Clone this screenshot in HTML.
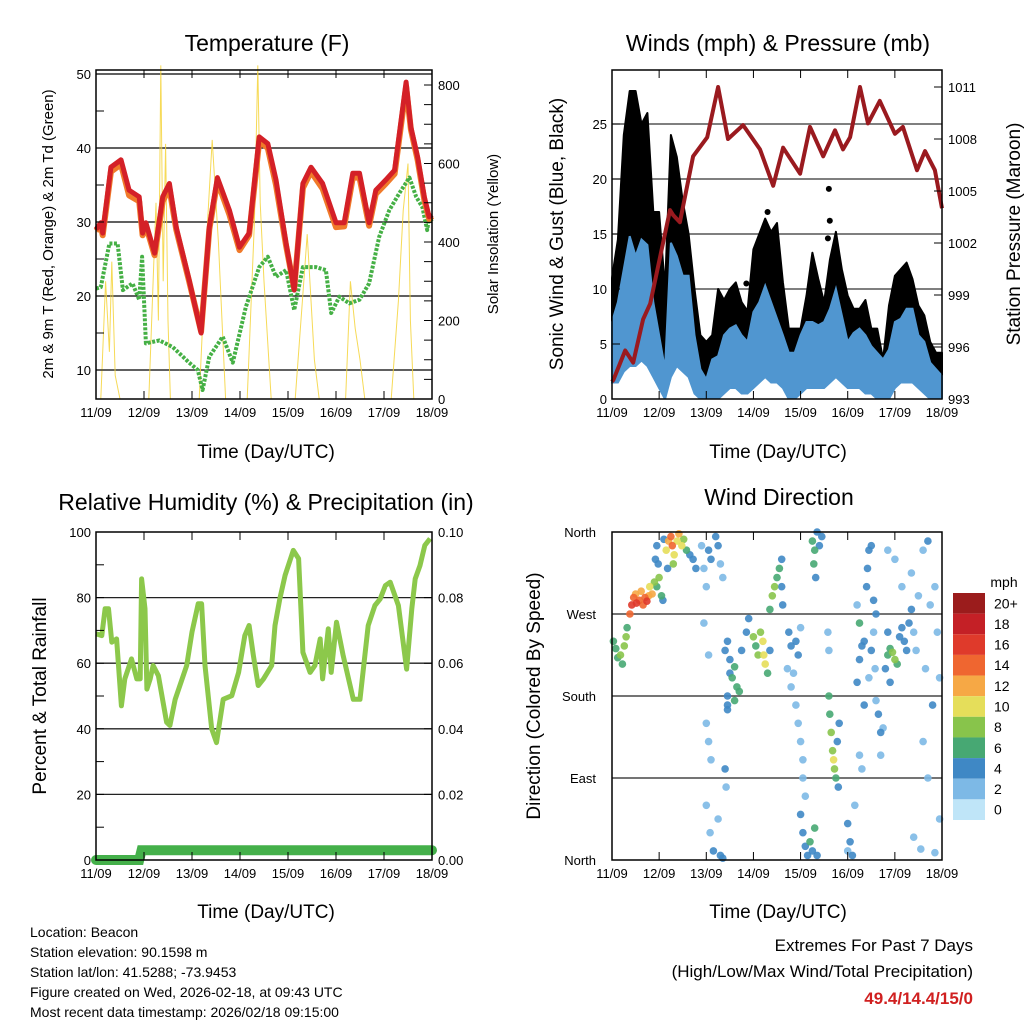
<!DOCTYPE html>
<html><head><meta charset="utf-8">
<style>
html,body{margin:0;padding:0;background:#fff;}
svg text{font-family:"Liberation Sans",Arial,sans-serif;fill:#000;}
</style></head>
<body>
<svg id="chart" xmlns="http://www.w3.org/2000/svg" width="1024" height="1024" viewBox="0 0 1024 1024">
<g id="layer"></g>
<text x="267" y="51" font-size="23" text-anchor="middle">Temperature (F)</text>
<text x="778" y="51" font-size="23" text-anchor="middle">Winds (mph) &amp; Pressure (mb)</text>
<text x="266" y="510" font-size="23" text-anchor="middle">Relative Humidity (%) &amp; Precipitation (in)</text>
<text x="779" y="505" font-size="23" text-anchor="middle">Wind Direction</text>
<text transform="translate(53,234) rotate(-90)" font-size="15" text-anchor="middle">2m &amp; 9m T (Red, Orange) &amp; 2m Td (Green)</text>
<text transform="translate(498,234) rotate(-90)" font-size="15" text-anchor="middle">Solar Insolation (Yellow)</text>
<text transform="translate(563,234) rotate(-90)" font-size="19" text-anchor="middle">Sonic Wind &amp; Gust (Blue, Black)</text>
<text transform="translate(1020,234) rotate(-90)" font-size="19" text-anchor="middle">Station Pressure (Maroon)</text>
<text transform="translate(46,696) rotate(-90)" font-size="19" text-anchor="middle">Percent &amp; Total Rainfall</text>
<text transform="translate(540,696) rotate(-90)" font-size="19" text-anchor="middle">Direction (Colored By Speed)</text>
<text x="266" y="458" font-size="19" text-anchor="middle">Time (Day/UTC)</text>
<text x="778" y="458" font-size="19" text-anchor="middle">Time (Day/UTC)</text>
<text x="266" y="918" font-size="19" text-anchor="middle">Time (Day/UTC)</text>
<text x="778" y="918" font-size="19" text-anchor="middle">Time (Day/UTC)</text>
<g font-size="14">
<text x="30" y="937">Location: Beacon</text>
<text x="30" y="957">Station elevation: 90.1598 m</text>
<text x="30" y="977">Station lat/lon: 41.5288; -73.9453</text>
<text x="30" y="997">Figure created on Wed, 2026-02-18, at 09:43 UTC</text>
<text x="30" y="1017">Most recent data timestamp: 2026/02/18 09:15:00</text>
</g>
<text x="973" y="951" font-size="17" text-anchor="end">Extremes For Past 7 Days</text>
<text x="973" y="977" font-size="17" text-anchor="end">(High/Low/Max Wind/Total Precipitation)</text>
<text x="973" y="1004" font-size="17" font-weight="bold" text-anchor="end" style="fill:#d02020">49.4/14.4/15/0</text>
<text x="1004" y="587" font-size="14" text-anchor="middle">mph</text>
</svg>
<script>
// ---- data ----
const dayLabels = ["11/09","12/09","13/09","14/09","15/09","16/09","17/09","18/09"];
const tempT = [0,0.1,0.14,0.31,0.52,0.69,0.9,0.97,1.04,1.22,1.39,1.53,1.67,1.94,2.19,2.36,2.53,2.78,2.99,3.19,3.4,3.58,3.75,3.96,4.13,4.31,4.48,4.72,5.0,5.17,5.35,5.49,5.69,5.83,6.04,6.22,6.46,6.56,6.7,6.84,6.94,7.0];
const tempV = [29,29.9,28.5,37.4,38.4,34.3,33.4,28.5,29.9,25.8,33.4,35.2,29.3,22.2,15,29.3,36,31.6,26.6,28.5,41.5,40.6,35.7,27.1,20.8,35.2,37.4,35.2,29.9,29.9,36.6,36.6,29.9,34.3,35.7,37,48.9,42.8,38.8,33.4,30.7,31];
const temp9V = [28.8,29.5,28.2,36.8,37.8,33.6,32.8,28.2,29.5,25.5,32.8,34.6,29,22,15.2,29,35.5,31,26.2,28.2,40.9,40,35,26.8,21,34.6,36.8,34.5,29.3,29.4,36,36,29.5,33.8,35.2,36.5,48.3,42.5,38.4,33,30.4,30.8];
const tdT = [0,0.1,0.28,0.45,0.56,0.76,0.9,0.96,1.04,1.32,1.6,1.94,2.12,2.22,2.36,2.64,2.85,3.12,3.4,3.58,3.75,3.96,4.13,4.31,4.58,4.79,4.9,5.07,5.28,5.49,5.69,5.9,6.11,6.32,6.53,6.67,6.8,6.9,6.94,7.0];
const tdV = [21,21.2,27.1,27.1,20.8,21.7,19.5,25.3,13.6,14,13.1,11,10,7.3,11.8,14.5,11,18.5,23.9,25.3,22.6,23.5,18.1,23.9,23.9,23.5,17.7,19.9,19,19.5,21.7,28,31.6,33.9,36,33.4,32,28.9,30.7,30];
const solarT = [0,0.1,0.2,0.28,0.33,0.4,0.5,1.1,1.25,1.3,1.35,1.4,1.45,1.5,1.55,2.15,2.3,2.42,2.55,2.7,3.15,3.3,3.37,3.42,3.5,3.65,4.15,4.3,4.4,4.55,4.65,5.2,5.3,5.4,5.5,5.6,6.15,6.3,6.4,6.5,6.55,6.62,7.0];
const solarV = [0,0,300,120,350,60,0,0,500,200,850,300,650,200,0,0,400,660,400,0,0,450,850,500,300,0,0,250,420,100,0,0,300,180,100,0,0,250,480,600,200,0,0];
const presT = [0,0.03,0.28,0.45,0.66,0.81,1.02,1.23,1.3,1.44,1.72,2.02,2.25,2.46,2.78,3.14,3.42,3.63,3.99,4.2,4.48,4.73,4.9,5.05,5.26,5.43,5.68,6.0,6.17,6.47,6.64,6.85,7.0];
const presV = [994,994.1,995.8,995.1,997.6,998.5,1001.2,1003.9,1003.6,1003.2,1007,1008.1,1011,1008,1008.8,1007.4,1005.3,1007.5,1006,1008.7,1007,1008.5,1007.4,1008.1,1011,1008.9,1010.2,1008.3,1008.7,1006.2,1007.3,1006.2,1004];
const windHi = [7,8.8,11.8,14.8,13,14.5,14,8.8,5.8,2.7,14.2,13,11.2,11.2,5.8,2.7,1.8,3.6,3.9,5.8,6.4,6.7,5.8,5.2,7.9,8.8,10.3,8.8,7.3,5.8,4.2,4.2,5.8,7,7,6.7,7,8.2,10,7.6,5.2,6,6.4,5.8,4.8,4.2,3.6,4.5,7,7.3,8.2,8.2,5.8,5.2,3.3,2.7,2.1];
const windLo = [1.5,1.5,2.5,3,3,3.5,3,2,1,0,2,3,2.5,2,0.5,0,0,0,0,0.5,1,1,0.5,0.5,1,1.5,2,1.5,1.5,1,0,0,0.5,1,1,1,1,1.5,2,1.5,1,1,1,0.5,0.5,0,0,0,1,1.5,1.5,1.5,1,0.5,0,0,0];
const gustHi = [11,14.5,24,28,28,25,26,17,17,10,24,22,18,15,10,5.8,5.2,5.8,10,9,10,10.6,8.8,8,13.6,15,16.4,15.2,16,10.6,6.4,6.4,6.4,9.4,13.3,10.9,8.8,12.7,15.2,11.8,9.4,8.2,8.2,9,6.4,6.4,3.6,8.5,11.2,11.8,12.4,10.9,8.5,7.6,5.2,4.2,4.2];
const gustOutT = [4.6,4.62,4.58,1.25,2.85,3.3];
const gustOutV = [19.1,16.2,14.6,17.5,10.5,17];
const rhT = [0,0.12,0.19,0.26,0.33,0.43,0.53,0.6,0.74,0.85,0.92,0.95,1.02,1.06,1.13,1.19,1.3,1.47,1.54,1.65,1.89,2.0,2.13,2.2,2.27,2.41,2.51,2.65,2.83,2.97,3.1,3.19,3.28,3.38,3.49,3.66,3.73,3.83,3.94,4.11,4.22,4.28,4.31,4.46,4.56,4.67,4.72,4.84,4.9,5.01,5.15,5.36,5.5,5.67,5.81,5.92,6.03,6.13,6.3,6.47,6.58,6.65,6.75,6.85,6.96];
const rhV = [69,68.4,76.6,76.6,66.4,67.4,47,55.2,61.3,55.2,55.2,85.7,76.6,52.1,55.2,59.3,56.2,42,41,49,59.3,69.5,78.1,78.1,59.3,40,35.8,49,50.1,57.2,68.4,71.5,62.3,53.2,55.2,59.3,71.5,79.6,86.8,94.4,91.9,73.5,63.3,57.2,59.3,67.4,55.2,70.5,57.2,72.5,62.3,49,49,71.5,77.6,79.6,83.7,84.7,77.6,58.2,76.6,85.7,89.8,95.9,98];
const precipT = [0,0.9,0.95,7.0];
const precipV = [0,0,0.003,0.003];
const dirDay = [0.03,0.08,0.12,0.18,0.22,0.26,0.3,0.32,0.38,0.42,0.46,0.5,0.52,0.58,0.62,0.66,0.7,0.74,0.78,0.8,0.85,0.9,0.95,1.0,1.05,1.08,0.92,0.95,0.98,1.15,1.2,1.25,1.28,1.32,1.38,1.42,1.48,1.52,1.58,1.65,1.72,1.78,1.18,1.1,1.3,1.9,1.95,2.0,2.05,2.1,2.2,2.25,2.3,2.35,1.95,2.05,2.0,2.05,2.1,2.0,2.08,2.15,2.3,2.35,2.25,2.4,2.42,2.45,2.45,2.4,2.45,2.5,2.55,2.6,2.65,2.7,2.75,2.85,2.9,2.45,2.5,2.6,3.0,3.05,3.1,3.15,3.2,3.25,3.3,3.35,3.22,3.35,3.4,3.45,3.5,3.55,3.6,3.62,3.6,3.75,3.8,3.9,3.95,3.72,3.85,3.8,4.0,3.9,3.95,4.0,4.05,4.05,4.1,4.0,4.05,4.1,4.15,4.2,4.25,4.3,4.35,4.25,4.3,4.28,4.32,4.35,4.4,4.45,4.6,4.62,4.65,4.68,4.7,4.72,4.75,4.8,4.78,4.82,4.6,4.58,5.0,5.05,5.1,5.0,5.15,5.25,5.3,5.35,5.2,5.25,5.3,5.35,5.4,5.42,5.45,5.5,5.55,5.6,5.55,5.5,5.58,5.6,5.65,5.7,5.75,5.7,5.45,5.2,5.25,5.85,5.9,5.95,6.0,6.05,6.1,6.15,6.2,6.25,5.85,5.8,5.9,6.3,6.35,6.4,6.45,5.85,6.0,6.15,6.35,6.5,6.6,6.7,6.75,6.85,6.9,6.95,6.8,6.6,6.7,6.4,6.55,6.85,6.95,6.65,6.9];
const dirDeg = [240,232,222,225,215,235,245,255,270,280,288,292,282,285,295,280,288,284,290,300,292,305,300,310,290,285,330,345,325,340,350,355,345,335,350,358,345,352,340,335,330,320,320,352,325,345,320,300,340,330,355,345,325,310,260,225,150,130,110,60,30,10,5,2,45,100,80,165,170,230,240,220,200,212,190,185,230,250,265,180,205,175,245,235,225,250,240,215,205,230,225,275,290,300,310,320,300,280,330,250,235,240,225,210,205,190,255,170,150,130,110,90,70,50,30,15,5,20,10,35,5,350,340,325,310,360,345,355,180,160,140,120,110,100,90,80,130,150,230,250,40,20,5,10,60,115,100,170,195,220,235,240,300,320,340,345,285,270,250,230,210,175,160,140,145,115,200,280,260,225,232,228,220,215,245,255,240,230,250,210,195,260,275,250,230,340,330,300,315,290,340,350,280,300,250,200,170,130,90,25,12,8,45,210,130];
const dirSpd = [5,6,5,7,6,7,7,6,14,15,13,11,15,14,12,14,13,15,12,10,11,7,6,7,5,4,3,4,3,10,12,13,14,10,9,11,9,8,6,4,4,4,4,3,8,2,2,1,3,3,4,4,2,2,1,1,1,1,1,1,2,3,3,4,2,3,2,3,3,4,4,4,6,6,6,6,4,4,3,4,4,6,7,6,7,8,10,9,6,4,10,6,7,8,6,6,4,3,3,3,4,4,4,2,2,2,2,2,2,2,2,2,2,3,3,4,4,6,4,6,3,6,6,5,4,4,3,3,6,6,7,8,10,8,6,4,4,4,2,2,3,4,4,2,2,1,1,3,4,4,4,3,4,4,3,3,4,3,2,3,2,2,3,3,1,2,2,2,6,6,6,8,8,5,4,4,3,4,4,3,4,4,3,2,2,1,2,1,2,1,2,3,1,2,2,1,3,1,2,2,1,1,2,1];
const cbLabels = ["20+","18","16","14","12","10","8","6","4","2","0"];
const cbColors = ["#9b1c1c","#c42026","#df3a2b","#ef6630","#f6a845","#e5de5a","#88c44b","#47a873","#3f88c5","#7db9e6","#bfe5f8"];

// ---- helpers ----
const NS = "http://www.w3.org/2000/svg";
const layer = document.getElementById("layer");
function mk(tag, attrs, parent){ const e=document.createElementNS(NS,tag); for(const k in attrs) e.setAttribute(k,attrs[k]); (parent||layer).appendChild(e); return e; }
function scale(d0,d1,r0,r1){ return v => r0 + (v-d0)*(r1-r0)/(d1-d0); }
function path(xs,ys,sx,sy){ return xs.map((t,i)=>(i?"L":"M")+sx(t).toFixed(1)+","+sy(ys[i]).toFixed(1)).join(""); }

function frame(x0,y0,x1,y1,name){
  const r = mk("rect",{x:x0,y:y0,width:x1-x0,height:y1-y0,fill:"none",stroke:"#000","stroke-width":1.5});
  
  
}
function xAxis(x0,x1,y0,y1,name){
  const sx = scale(0,7,x0,x1);
  dayLabels.forEach((lab,i)=>{
    const x=sx(i);
    const t1=mk("line",{x1:x,x2:x,y1:y1,y2:y1-8,stroke:"#000","stroke-width":1});
    
    
    const t2=mk("line",{x1:x,x2:x,y1:y0,y2:y0+8,stroke:"#000","stroke-width":1});
    
    
    const tx=mk("text",{x:x,y:y1+18,"font-size":13,"text-anchor":"middle"}); tx.textContent=lab;
    
    
  });
  return sx;
}
function grid(x0,x1,y,name,col){
  const g=mk("line",{x1:x0,x2:x1,y1:y,y2:y,stroke:col||"#000","stroke-width":1.3});
  
  
}
function yTicks(vals,sy,x,side,name,fmt,labels){
  vals.forEach(v=>{
    const y=sy(v);
    const t=mk("line",{x1:x,x2:x+(side<0?8:-8),y1:y,y2:y,stroke:"#000","stroke-width":1});
    
    
    if(labels!==false){
      const tx=mk("text",{x:side<0?x-5:x+6,y:y+5,"font-size":13,"text-anchor":side<0?"end":"start"}); tx.textContent=fmt(v);
      
      
    }
  });
}

// ===== Panel 1: Temperature =====
(function(){
  const X0=96,X1=432,Y0=70,Y1=399;
  const sx=scale(0,7,X0,X1), sy=scale(10,50,370,74), ss=scale(0,800,399,85);
  [10,20,30,40,50].forEach(v=>grid(X0,X1,sy(v),"temperature"));
  const sol=mk("path",{d:path(solarT,solarV,sx,ss),fill:"none",stroke:"#f5d43a","stroke-width":1,opacity:0.85});
  
  
  const td=mk("path",{d:path(tdT,tdV,sx,sy),fill:"none",stroke:"#45b045","stroke-width":4,"stroke-dasharray":"3 1.5","stroke-linejoin":"round"});
  
  
  const t9=mk("path",{d:path(tempT,temp9V,sx,sy),fill:"none",stroke:"#f07a2a","stroke-width":6,"stroke-linejoin":"round"});
  
  
  const t2=mk("path",{d:path(tempT,tempV,sx,sy),fill:"none",stroke:"#d42027","stroke-width":5,"stroke-linejoin":"round"});
  
  
  frame(X0,Y0,X1,Y1,"temperature");
  xAxis(X0,X1,Y0,Y1,"temperature");
  yTicks([10,20,30,40,50],sy,X0,-1,"temperature-y",v=>v);
  yTicks([15,25,35,45],sy,X0,-1,"temperature-y-minor",v=>v,false);
  yTicks([0,200,400,600,800],ss,X1,1,"insolation-y",v=>v);
  yTicks([50,100,150,250,300,350,450,500,550,650,700,750],ss,X1,1,"insolation-y-minor",v=>v,false);
})();

// ===== Panel 2: Winds & Pressure =====
(function(){
  const X0=612,X1=942,Y0=70,Y1=399;
  const sx=scale(0,7,X0,X1), sy=scale(0,25,399,124), sp=scale(993,1011,399,87);
  [5,10,15,20,25].forEach(v=>grid(X0,X1,sy(v),"wind","#333"));
  const tHi = windHi.map((v,i)=>i/8);
  // gust band: between mean-wind top and gust top
  let d = path(tHi,gustHi,sx,sy);
  for(let i=tHi.length-1;i>=0;i--) d+="L"+sx(tHi[i]).toFixed(1)+","+sy(windHi[i]).toFixed(1);
  const gb=mk("path",{d:d+"Z",fill:"#000",stroke:"#000","stroke-width":2,"stroke-linejoin":"round"});
  
  
  gustOutT.forEach((t,i)=>{
    const c=mk("circle",{cx:sx(t),cy:sy(gustOutV[i]),r:3,fill:"#000"});
    
    
  });
  let w = path(tHi,windHi,sx,sy);
  for(let i=tHi.length-1;i>=0;i--) w+="L"+sx(tHi[i]).toFixed(1)+","+sy(windLo[i]).toFixed(1);
  const wb=mk("path",{d:w+"Z",fill:"#5096d0",stroke:"#5096d0","stroke-width":2});
  
  
  const pr=mk("path",{d:path(presT,presV,sx,sp),fill:"none",stroke:"#9a1a1f","stroke-width":4,"stroke-linejoin":"round"});
  
  
  const clip=mk("rect",{x:X0-2,y:Y1,width:X1-X0+4,height:10,fill:"#fff"});
  
  
  frame(X0,Y0,X1,Y1,"wind");
  xAxis(X0,X1,Y0,Y1,"wind");
  yTicks([0,5,10,15,20,25],sy,X0,-1,"wind-y",v=>v);
  yTicks([993,996,999,1002,1005,1008,1011],sp,X1,1,"pressure-y",v=>v);
})();

// ===== Panel 3: RH & Precip =====
(function(){
  const X0=96,X1=432,Y0=532,Y1=860;
  const sx=scale(0,7,X0,X1), sy=scale(0,100,860,532), sr=scale(0,0.1,860,532);
  [20,40,60,80].forEach(v=>grid(X0,X1,sy(v),"humidity","#222"));
  const rh=mk("path",{d:path(rhT,rhV,sx,sy),fill:"none",stroke:"#8cc84b","stroke-width":5,"stroke-linejoin":"round"});
  
  
  const pc=mk("path",{d:path(precipT,precipV,sx,sr),fill:"none",stroke:"#44b04a","stroke-width":10,"stroke-linecap":"round"});
  
  
  frame(X0,Y0,X1,Y1,"humidity");
  xAxis(X0,X1,Y0,Y1,"humidity");
  yTicks([0,20,40,60,80,100],sy,X0,-1,"humidity-y",v=>v);
  yTicks([10,30,50,70,90],sy,X0,-1,"humidity-y-minor",v=>v,false);
  yTicks([0,0.02,0.04,0.06,0.08,0.1],sr,X1,1,"precip-y",v=>v.toFixed(2));
})();

// ===== Panel 4: Wind direction =====
(function(){
  const X0=612,X1=942,Y0=532,Y1=860;
  const sx=scale(0,7,X0,X1), sy=scale(0,360,860,532);
  [90,180,270].forEach(v=>grid(X0,X1,sy(v),"direction","#222"));
  const order = dirSpd.map((s,i)=>i).sort((a,b)=>dirSpd[a]-dirSpd[b]);
  order.forEach(i=>{
    const ci = Math.max(0,10-Math.min(10,Math.floor(dirSpd[i]/2+0.5)));
    const c=mk("circle",{cx:sx(dirDay[i]).toFixed(1),cy:sy(dirDeg[i]).toFixed(1),r:3.8,fill:cbColors[ci],opacity:0.9});
    
    
  });
  frame(X0,Y0,X1,Y1,"direction");
  xAxis(X0,X1,Y0,Y1,"direction");
  const names=["North","East","South","West","North"];
  [0,90,180,270,360].forEach((v,i)=>{
    const tx=mk("text",{x:X0-16,y:sy(v)+5,"font-size":13,"text-anchor":"end"}); tx.textContent=names[i];
    
    
  });
  const cbY0=593, h=(820-593)/cbColors.length;
  cbColors.forEach((col,i)=>{
    const r=mk("rect",{x:953,y:cbY0+i*h,width:32,height:h,fill:col});
    
    
    const tx=mk("text",{x:994,y:cbY0+i*h+h/2+5,"font-size":14}); tx.textContent=cbLabels[i];
    
    
  });
})();
</script>
</body></html>
